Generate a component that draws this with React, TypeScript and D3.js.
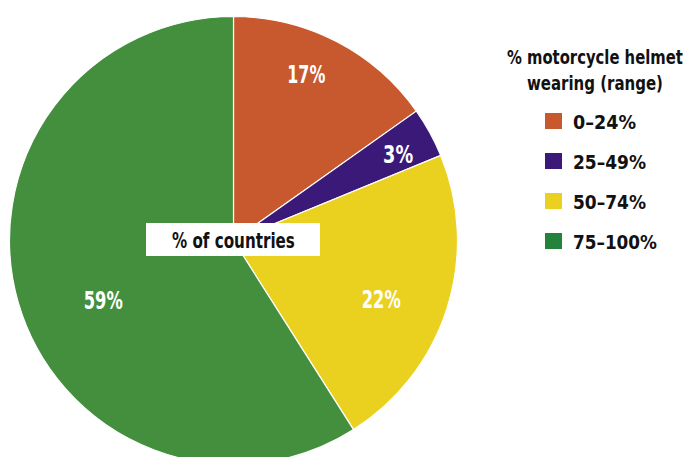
import React, { useLayoutEffect, useRef } from "react";
import * as d3 from "d3";

const categories = ["0–24%", "25–49%", "50–74%", "75–100%"];
const sliceValues = [15.2, 3.6, 22.2, 59.0];
const sliceLabels = ["17%", "3%", "22%", "59%"];
const pieColors = ["#C8582D", "#3A1979", "#EBD11F", "#438F3E"];
const legendColors = ["#C8582D", "#3A1979", "#EBD11F", "#24833A"];
const labelRadiusFrac = [0.81, 0.83, 0.71, 0.64];
const labelAngleShift = [-3.7, 1.1, 4.1, -8.5];
const labelWidths = [38, 30, 39, 39];
const legendTitle = ["% motorcycle helmet", "wearing (range)"];
const legendTitleWidths = [176, 136];
const legendWidths = [63, 73, 73, 84];
const centerText = "% of countries";

const W = 688;
const H = 457;
const cx = 233.5;
const cy = 240.5;
const R = 224;
const FONT = "'DejaVu Sans Condensed', 'DejaVu Sans', sans-serif";

type FitProps = {
  x: number;
  y: number;
  width: number;
  fontSize: number;
  fill: string;
  children: string;
};

function FitText({ x, y, width, fontSize, fill, children }: FitProps) {
  const ref = useRef<SVGTextElement>(null);
  useLayoutEffect(() => {
    const el = ref.current;
    if (!el) return;
    const natural = el.getComputedTextLength();
    const s = natural > 0 ? width / natural : 1;
    el.setAttribute("transform", `translate(${x},${y}) scale(${s},1)`);
  }, [x, y, width, children]);
  return (
    <text
      ref={ref}
      transform={`translate(${x},${y})`}
      fontSize={fontSize}
      fill={fill}
      fontFamily={FONT}
      fontWeight="bold"
      style={{ fontStretch: "condensed" }}
    >
      {children}
    </text>
  );
}

export default function App() {
  const pie = d3.pie<number>().sort(null).value((d) => d);
  const arcs = pie(sliceValues);
  const arcGen = d3.arc<d3.PieArcDatum<number>>().innerRadius(0).outerRadius(R);

  return (
    <svg
      width={W}
      height={H}
      style={{ position: "absolute", left: 0, top: 0, background: "#fff" }}
    >
      <g transform={`translate(${cx},${cy})`}>
        {arcs.map((a, i) => (
          <path key={i} d={arcGen(a) || ""} fill={pieColors[i]} stroke="#fff" strokeWidth={1.2} />
        ))}
        {arcs.map((a, i) => {
          const ang = (a.startAngle + a.endAngle) / 2 + (labelAngleShift[i] * Math.PI) / 180;
          const r = R * labelRadiusFrac[i];
          const x = Math.sin(ang) * r;
          const y = -Math.cos(ang) * r;
          return (
            <FitText
              key={i}
              x={x - labelWidths[i] / 2}
              y={y + 8.5}
              width={labelWidths[i]}
              fontSize={24}
              fill="#fff"
            >
              {sliceLabels[i]}
            </FitText>
          );
        })}
      </g>
      <rect x={146} y={223} width={174} height={33} fill="#fff" />
      <FitText x={172} y={248} width={123} fontSize={22} fill="#111">
        {centerText}
      </FitText>
      {legendTitle.map((t, i) => (
        <FitText
          key={t}
          x={595 - legendTitleWidths[i] / 2}
          y={64 + i * 26}
          width={legendTitleWidths[i]}
          fontSize={19}
          fill="#111"
        >
          {t}
        </FitText>
      ))}
      {categories.map((c, i) => (
        <g key={c} transform={`translate(545,${113 + i * 40})`}>
          <rect width={17} height={16} fill={legendColors[i]} />
          <FitText x={28} y={15.5} width={legendWidths[i]} fontSize={20} fill="#111">
            {c}
          </FitText>
        </g>
      ))}
    </svg>
  );
}
